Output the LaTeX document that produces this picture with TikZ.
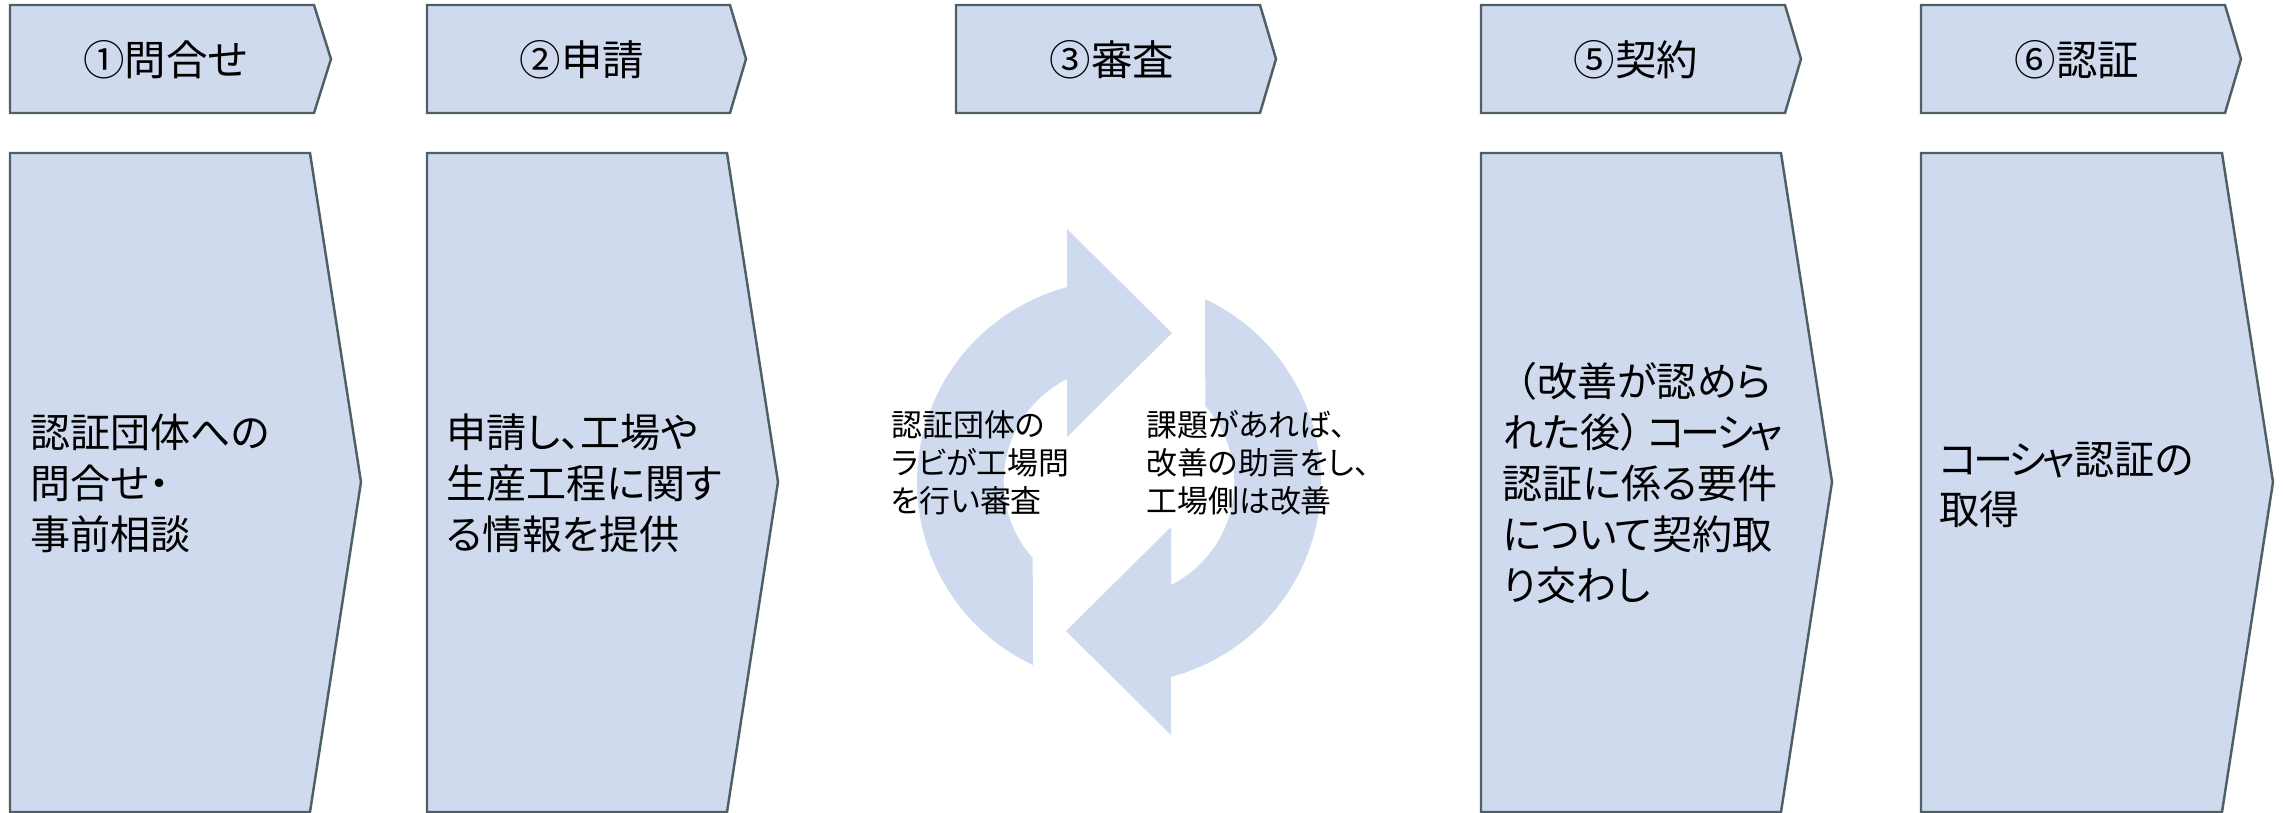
\documentclass[tikz,border=0pt]{standalone}
\usepackage{fontspec}
\setmainfont[RawFeature=+palt]{Noto Sans CJK JP}
\newfontfamily\fullfont{Noto Sans CJK JP}
\usepackage{tikz}

\definecolor{paleblue}{HTML}{CFDAEF}
\definecolor{edgegray}{HTML}{4F6064}
\newcommand{\kosha}{コ\kern-.1emー\kern-.1emシ\kern-.1emャ}

\begin{document}
\begin{tikzpicture}[
        x=.02cm, y=-.02cm,
        step box/.style={draw=edgegray, fill=paleblue, line width=1.4pt, line join=miter},
        cycle arrow/.style={fill=paleblue},
        head text/.style={inner sep=0pt, font=\fullfont\fontsize{23.6}{28}\selectfont},
        body text/.style={inner sep=0pt, anchor=west, align=left, font=\fontsize{22.8}{29}\selectfont},
        note text/.style={inner sep=0pt, anchor=west, align=left, font=\fontsize{17.6}{21.6}\selectfont},
    ]
    \useasboundingbox (0,0) rectangle (2283,812);

    % top row
    \draw[step box] (10,5) -- (314,5) -- (331,59) -- (314,113) -- (10,113) -- cycle;
    \draw[step box] (427,5) -- (730,5) -- (746,59) -- (730,113) -- (427,113) -- cycle;
    \draw[step box] (956,5) -- (1260,5) -- (1276,59) -- (1260,113) -- (956,113) -- cycle;
    \draw[step box] (1481,5) -- (1785,5) -- (1801,59) -- (1785,113) -- (1481,113) -- cycle;
    \draw[step box] (1921,5) -- (2225,5) -- (2241,59) -- (2225,113) -- (1921,113) -- cycle;

    \node[head text] (ask) at (166,60) {①問合せ};
    \node[head text] (apply) at (582,60) {②申請};
    \node[head text] (audit) at (1112,60) {③審査};
    \node[head text] (contract) at (1636,60) {⑤契約};
    \node[head text] (certify) at (2077,60) {⑥認証};

    % big boxes
    \draw[step box] (10,153) -- (310,153) -- (361,482) -- (310,812) -- (10,812) -- cycle;
    \draw[step box] (427,153) -- (727,153) -- (778,482) -- (727,812) -- (427,812) -- cycle;
    \draw[step box] (1481,153) -- (1781,153) -- (1832,482) -- (1781,812) -- (1481,812) -- cycle;
    \draw[step box] (1921,153) -- (2222,153) -- (2273,482) -- (2222,812) -- (1921,812) -- cycle;

    \node[body text] (askbody) at (30,483) {認証団体への\\問合せ・\\事前相談};
    \node[body text] (applybody) at (446,483) {申請し、工場や\\生産工程に関す\\る情報を提供};
    \node[body text] (contractbody) at (1497,483) {{\fullfont （}改善が認めら\\\hspace{3pt}れた後）\hspace{.15em}\kosha\\\hspace{3pt}認証に係る要件\\\hspace{3pt}について契約取\\\hspace{3pt}り交わし};
    \node[body text] (certifybody) at (1939,485) {\kosha 認証の\\取得};

    % cycle
    \fill[cycle arrow] (1033,665) arc[start angle=244.8, end angle=104.9, radius=4.04cm]
        -- (1067,229) -- (1172,333) -- (1067,437) -- (1067,379)
        arc[start angle=116.7, end angle=221.6, radius=2.3cm] -- cycle;
    \fill[cycle arrow] (1205,299) arc[start angle=64.8, end angle=-75.1, radius=4.04cm]
        -- (1171,735) -- (1066,631) -- (1171,527) -- (1171,585)
        arc[start angle=-63.3, end angle=41.6, radius=2.3cm] -- cycle;

    \node[note text] (auditleft) at (891,463) {認証団体の\\ラビが工場問\\を行い審査};
    \node[note text] (auditright) at (1146,463) {課題があれば、\\改善の助言をし、\\工場側は改善};
\end{tikzpicture}
\end{document}
